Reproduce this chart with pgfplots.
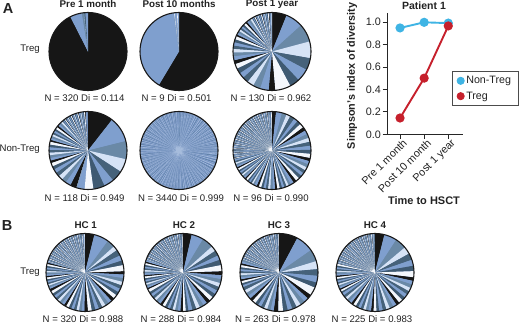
\documentclass[border=0pt]{standalone}
\usepackage{fontspec}
\setmainfont{Liberation Sans}
\usepackage{pgfplots}
\pgfplotsset{compat=1.18}
\definecolor{pc0}{HTML}{161616}
\definecolor{pc1}{HTML}{7F9FCE}
\definecolor{pc2}{HTML}{6A89A6}
\definecolor{pc3}{HTML}{D6E3F6}
\definecolor{pc4}{HTML}{46627A}
\definecolor{pc5}{HTML}{7F9FCE}
\definecolor{pc6}{HTML}{3F5A72}
\definecolor{pc7}{HTML}{F4F7FC}
\definecolor{qc0}{HTML}{7F9CCB}
\definecolor{qc1}{HTML}{6080B0}
\definecolor{qc2}{HTML}{A9C0E0}
\definecolor{qc3}{HTML}{7F9CCB}
\definecolor{qc4}{HTML}{5C7DA2}
\definecolor{qc5}{HTML}{8AA6D0}
\definecolor{qc6}{HTML}{7794C4}
\definecolor{qc7}{HTML}{A6BCDC}
\definecolor{under}{HTML}{6F8DBA}
\definecolor{cyanline}{HTML}{3FB4E4}
\definecolor{redline}{HTML}{C6202C}
\definecolor{txt}{HTML}{222222}
\newcount\wi
\newcommand\app[1]{\expandafter\xdef\csname pts\ci\endcsname{\csname pts\ci\endcsname #1}}
\newcommand\buildpie[1]{%
  \global\wi=0 \gdef\cum{0}%
  \foreach \i in {0,...,7}{\expandafter\gdef\csname pts\i\endcsname{}}%
  \foreach \w/\n in {#1}{\foreach \k in {1,...,\n}{%
    \pgfmathtruncatemacro\ci{mod(\wi,8)}%
    \pgfmathtruncatemacro\st{max(1,ceil(\w/5))}%
    \pgfmathsetmacro\dd{\w/\st}%
    \app{(0,0) }%
    \foreach \j in {0,...,\st}{\pgfmathsetmacro\ang{90-\cum-\j*\dd}\app{(\ang,1) }}%
    \app{(0,0) }%
    \pgfmathsetmacro\cumn{\cum+\w}\global\let\cum\cumn
    \global\advance\wi by 1
  }}}
% #1 x, #2 y (pixels from the top), #3 palette, #4 stroke, #5 wedges as width/count
\newcommand\pie[5]{%
  \buildpie{#5}%
  \pgfmathsetmacro\py{324-#2}%
  \begin{axis}[at={(#1pt,\py pt)},anchor=center,width=78pt,height=78pt,scale only axis,
    hide axis,xmin=-1,xmax=1,ymin=-1,ymax=1,clip=false]
  \fill[under] (axis cs:0,0) circle (38.8pt);
  \pgfplotsinvokeforeach{0,...,7}{%
    \expandafter\ifx\csname pts##1\endcsname\empty\else
      \edef\tmp{\noexpand\addplot[data cs=polar,fill=#3c##1,#4,line join=round] coordinates {\csname pts##1\endcsname};}\tmp
    \fi}
  \draw[line width=1.1pt,color=black!90] (axis cs:0,0) circle (39pt);
  \end{axis}}
\newcommand\lab[4][]{\node[text=txt,inner sep=0pt,#1] at (#2pt,{(324-#3)*1pt}) {#4};}
\begin{document}
\begin{tikzpicture}
\useasboundingbox (0,0) rectangle (520pt,324pt);
\def\hair{draw=none}
\pie{88}{51.5}{p}{\hair}{333/1,18/1,3/1,0.3/1,2/1,3.7/1}
\pie{179}{51.5}{p}{\hair}{211/1,141/1,0.5/1,1.5/1,0/1,3/1,0/1,1/1,0/1,2/1}
\pie{272}{51.5}{p}{\hair}{22/1,26/1,27/1,25/1,18/1,19/1,15/1,23/1,10/1,13/1,11/1,10/1,9/1,8/2,7/1,6/2,5.5/2,5/2,4.5/2,3/12,1.3/24}
\pie{88}{150.5}{p}{\hair}{38/2,27/1,20/1,17/1,15/1,17/1,13/1,0/1,12/1,0/6,10/1,8/1,7/2,6/2,5/2,4/8,3/12,1.3/30}
\pie{179}{150.5}{q}{draw=none}{0.6/37,1.1/23,0.8/41,0.5/29,1.3/19,0.7/47,0.9/31,0.6/43,1.0/27,0.7/40,0.95/44,0.8/72}
\pie{272}{150.5}{p}{\hair}{6/1,9/1,7/1,6/1,7/1,6/3,6/8,5/10,3.5/16,2.5/20,0.9/114}
\pie{85}{272.5}{p}{\hair}{14/1,22/1,12/1,7/1,9/1,8/1,7/1,9/1,5/1,5.5/16,4/16,2.5/16,0.9/83}
\pie{183}{272.5}{p}{\hair}{13/1,18/1,17/1,8/2,7/1,8/1,9/1,6/14,4/18,2.5/18,0.9/79}
\pie{279}{272.5}{p}{\hair}{28/1,27/1,18/1,12/1,10/2,8/1,12/1,7/9,5/12,3/14,0.9/78}
\pie{375}{272.5}{p}{\hair}{14/1,19/1,17/1,11/1,10/1,9/1,8/1,9/1,5.5/14,4/16,2.5/18,0.9/85}
% line chart
\begin{axis}[at={(387pt,189.7pt)},anchor=south west,width=76pt,height=121.3pt,scale only axis,
  xmin=-0.54,xmax=2.61,ymin=0,ymax=1.08,clip=false,
  axis x line=bottom,axis y line=left,
  axis line style={-,line width=0.9pt,color=black!85},
  every tick/.style={line width=0.8pt,color=black!85},
  tick align=outside,major tick length=4.5pt,
  xtick={0,1,2},xticklabels={Pre 1 month,Post 10 month,Post 1 year},
  ytick={0,0.2,0.4,0.6,0.8,1.0},
  /pgf/number format/assume math mode=true,
  /pgf/number format/fixed,/pgf/number format/fixed zerofill,/pgf/number format/precision=1,
  tick label style={font=\fontsize{10.8}{12}\selectfont,text=txt},
  x tick label style={rotate=45,anchor=north east,inner sep=1pt,xshift=3pt},
  y tick label style={inner sep=1.5pt},
  legend style={at={(0.851,0.522)},anchor=north west,draw=black!70,line width=0.8pt,
    font=\fontsize{10.7}{12}\selectfont,text=txt,inner xsep=5pt,inner ysep=3pt,row sep=2.5pt,cells={anchor=west}},
  legend cell align=left]
\addplot[forget plot,color=cyanline,line width=1.9pt,mark=*,mark size=3.6pt,mark options={fill=cyanline}] coordinates {(0,0.947) (1,0.997) (2,0.99)};
\addplot[forget plot,color=redline,line width=1.9pt,mark=*,mark size=3.6pt,mark options={fill=redline}] coordinates {(0,0.145) (1,0.50) (2,0.965)};
\addlegendimage{only marks,mark=*,mark size=3.6pt,color=cyanline,fill=cyanline}
\addlegendimage{only marks,mark=*,mark size=3.6pt,color=redline,fill=redline}
\legend{Non-Treg,Treg}
\end{axis}
% texts
\def\fa{\fontsize{9.6}{11}\selectfont}
\def\fb{\fontsize{9.8}{11}\selectfont\bfseries}
\lab{8}{9}{\fontsize{14.5}{15}\selectfont\bfseries A}
\lab{7}{226}{\fontsize{14.5}{15}\selectfont\bfseries B}
\lab{88}{4}{\fb Pre 1 month}
\lab{179}{4}{\fb Post 10 months}
\lab{272}{4}{\fb Post 1 year}
\lab[anchor=east]{40}{49.5}{\fa Treg}
\lab[anchor=east]{40}{149.5}{\fa Non-Treg}
\lab[anchor=east]{40}{272}{\fa Treg}
\lab{84.5}{98}{\fa N = 320 Di = 0.114}
\lab{176.5}{98}{\fa N = 9 Di = 0.501}
\lab{271}{98}{\fa N = 130 Di = 0.962}
\lab{84.6}{198}{\fa N = 118 Di = 0.949}
\lab{181}{198}{\fa N = 3440 Di = 0.999}
\lab{271}{198}{\fa N = 96 Di = 0.990}
\lab{85.7}{225.6}{\fb HC 1}
\lab{184}{225.6}{\fb HC 2}
\lab{279}{225.6}{\fb HC 3}
\lab{375}{225.6}{\fb HC 4}
\lab{83}{319}{\fa N = 320 Di = 0.988}
\lab{181}{319}{\fa N = 288 Di = 0.984}
\lab{275.5}{319}{\fa N = 263 Di = 0.978}
\lab{372}{319}{\fa N = 225 Di = 0.983}
\lab{424}{6}{\fontsize{10.5}{12}\selectfont\bfseries Patient 1}
\lab[rotate=90]{352}{76}{\fontsize{10.8}{12}\selectfont\bfseries Simpson's index of diversity}
\lab{424}{200.5}{\fontsize{11}{12}\selectfont\bfseries Time to HSCT}
\end{tikzpicture}
\end{document}
